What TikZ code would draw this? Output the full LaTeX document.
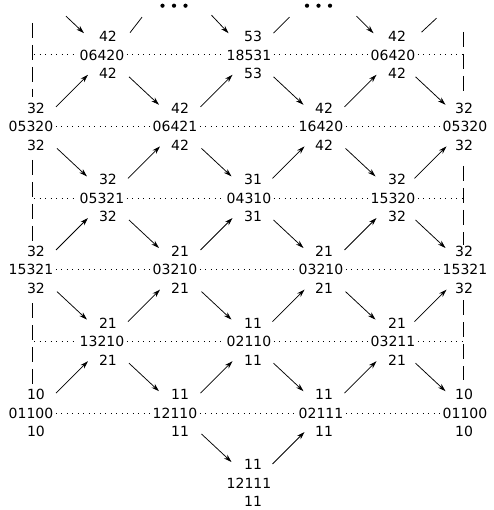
\documentclass[tikz,border=0pt]{standalone}
\usepackage{fontspec}
\setmainfont{DejaVu Sans}
\usetikzlibrary{arrows.meta,calc}
\newcommand\latnode[7]{%
  \node[lab] (t#1) at (#2,#4-18.5) {#5};
  \node[num] (n#1) at (#3,#4) {#6};
  \node[lab] (b#1) at (#2,#4+18.5) {#7};}
\newcommand\dra[2]{\draw[arr] ($(#1)!.5!(#2)+(-15,-14)$) -- ($(#1)!.5!(#2)+(15,14)$);}
\newcommand\ura[2]{\draw[arr] ($(#1)!.5!(#2)+(-16,16)$) -- ($(#1)!.5!(#2)+(16,-16)$);}
\begin{document}
\begin{tikzpicture}[x=1pt,y=-1pt,
  lab/.style={inner sep=0pt, font=\fontsize{14}{16}\selectfont},
  num/.style={inner sep=2.5pt, font=\fontsize{14}{16}\selectfont},
  arr/.style={line width=0.75pt, -{Stealth[length=8pt,width=5pt]}},
  stub/.style={line width=0.75pt},
  dotline/.style={line width=1pt, dash pattern=on 1pt off 4.5pt},
  frame/.style={line width=0.95pt, dash pattern=on 15pt off 7pt}]
\useasboundingbox (0,0) rectangle (493,510);
% lattice nodes: name, label x, number x, y, top, number, bottom
\latnode{01}{108}{102}{55}{42}{06420}{42}
\latnode{03}{253}{249}{55}{53}{18531}{53}
\latnode{05}{397}{393}{55}{42}{06420}{42}
\latnode{10}{36}{31}{126.6}{32}{05320}{32}
\latnode{12}{180}{175}{126.6}{42}{06421}{42}
\latnode{14}{324}{321}{126.6}{42}{16420}{42}
\latnode{16}{464}{465}{126.6}{32}{05320}{32}
\latnode{21}{108}{102}{198.2}{32}{05321}{32}
\latnode{23}{253}{249}{198.2}{31}{04310}{31}
\latnode{25}{397}{393}{198.2}{32}{15320}{32}
\latnode{30}{36}{31}{269.8}{32}{15321}{32}
\latnode{32}{180}{175}{269.8}{21}{03210}{21}
\latnode{34}{324}{321}{269.8}{21}{03210}{21}
\latnode{36}{464}{465}{269.8}{32}{15321}{32}
\latnode{41}{108}{102}{341.4}{21}{13210}{21}
\latnode{43}{253}{249}{341.4}{11}{02110}{11}
\latnode{45}{397}{393}{341.4}{21}{03211}{21}
\latnode{50}{36}{31}{413}{10}{01100}{10}
\latnode{52}{180}{175}{413}{11}{12110}{11}
\latnode{54}{324}{321}{413}{11}{02111}{11}
\latnode{56}{464}{465}{413}{10}{01100}{10}
\latnode{63}{253}{249}{483}{11}{12111}{11}
% virtual row above
\coordinate (v0) at (36,1.9);
\coordinate (v2) at (180,1.9);
\coordinate (v4) at (324,1.9);
\coordinate (v6) at (464,1.9);
\fill (162.5,5.7) circle (2.1) (174,5.7) circle (2.1) (185.5,5.7) circle (2.1);
\fill (307,5.7) circle (2.1) (318.5,5.7) circle (2.1) (330,5.7) circle (2.1);
% top partial arrows
\draw[arr] ($(v0)!.5!(t01)+(-6,-3)$) -- ($(v0)!.5!(t01)+(12,14)$);
\draw[arr] ($(v2)!.5!(t03)+(-5,-4)$) -- ($(v2)!.5!(t03)+(12,14)$);
\draw[arr] ($(v4)!.5!(t05)+(-4,-3)$) -- ($(v4)!.5!(t05)+(13,14)$);
\draw[stub] ($(t01)!.5!(v2)+(-14,13.5)$) -- ($(t01)!.5!(v2)+(-2,-2)$);
\draw[stub] ($(t03)!.5!(v4)+(-15,14)$) -- ($(t03)!.5!(v4)+(1,-2)$);
\draw[stub] ($(t05)!.5!(v6)+(-9,13)$) -- ($(t05)!.5!(v6)+(6,-1)$);
% rows 0-1
\ura{t10}{b01} \dra{b01}{t12} \ura{t12}{b03} \dra{b03}{t14} \ura{t14}{b05} \dra{b05}{t16}
% rows 1-2
\dra{b10}{t21} \ura{t21}{b12} \dra{b12}{t23} \ura{t23}{b14} \dra{b14}{t25} \ura{t25}{b16}
% rows 2-3
\ura{t30}{b21} \dra{b21}{t32} \ura{t32}{b23} \dra{b23}{t34} \ura{t34}{b25} \dra{b25}{t36}
% rows 3-4
\dra{b30}{t41} \ura{t41}{b32} \dra{b32}{t43} \ura{t43}{b34} \dra{b34}{t45} \ura{t45}{b36}
% rows 4-5
\ura{t50}{b41} \dra{b41}{t52} \ura{t52}{b43} \dra{b43}{t54} \ura{t54}{b45} \dra{b45}{t56}
% rows 5-6
\dra{b52}{t63} \ura{t63}{b54}
% frame lines
\coordinate (la0) at (32,23);  \coordinate (la1) at (32,97);
\coordinate (lb0) at (32,160); \coordinate (lb1) at (32,244);
\coordinate (lc0) at (32,303); \coordinate (lc1) at (32,384);
\coordinate (ra0) at (463,32);  \coordinate (ra1) at (463,95);
\coordinate (rb0) at (463,166); \coordinate (rb1) at (463,245);
\coordinate (rc0) at (463,300); \coordinate (rc1) at (463,380);
\draw[frame] (la0) -- (la1) (lb0) -- (lb1) (lc0) -- (lc1);
\draw[frame] (ra0) -- (ra1) (rb0) -- (rb1) (rc0) -- (rc1);
% dotted horizontals
\coordinate (lf0) at (34,55);    \coordinate (rf0) at (462,55);
\coordinate (lf2) at (34,198.2); \coordinate (rf2) at (462,198.2);
\coordinate (lf4) at (34,341.4); \coordinate (rf4) at (462,341.4);
\draw[dotline] (lf0) -- (n01.west) (n01.east) -- (n03.west) (n03.east) -- (n05.west) (n05.east) -- (rf0);
\draw[dotline] (n10.east) -- (n12.west) (n12.east) -- (n14.west) (n14.east) -- (n16.west);
\draw[dotline] (lf2) -- (n21.west) (n21.east) -- (n23.west) (n23.east) -- (n25.west) (n25.east) -- (rf2);
\draw[dotline] (n30.east) -- (n32.west) (n32.east) -- (n34.west) (n34.east) -- (n36.west);
\draw[dotline] (lf4) -- (n41.west) (n41.east) -- (n43.west) (n43.east) -- (n45.west) (n45.east) -- (rf4);
\draw[dotline] (n50.east) -- (n52.west) (n52.east) -- (n54.west) (n54.east) -- (n56.west);
\end{tikzpicture}
\end{document}
